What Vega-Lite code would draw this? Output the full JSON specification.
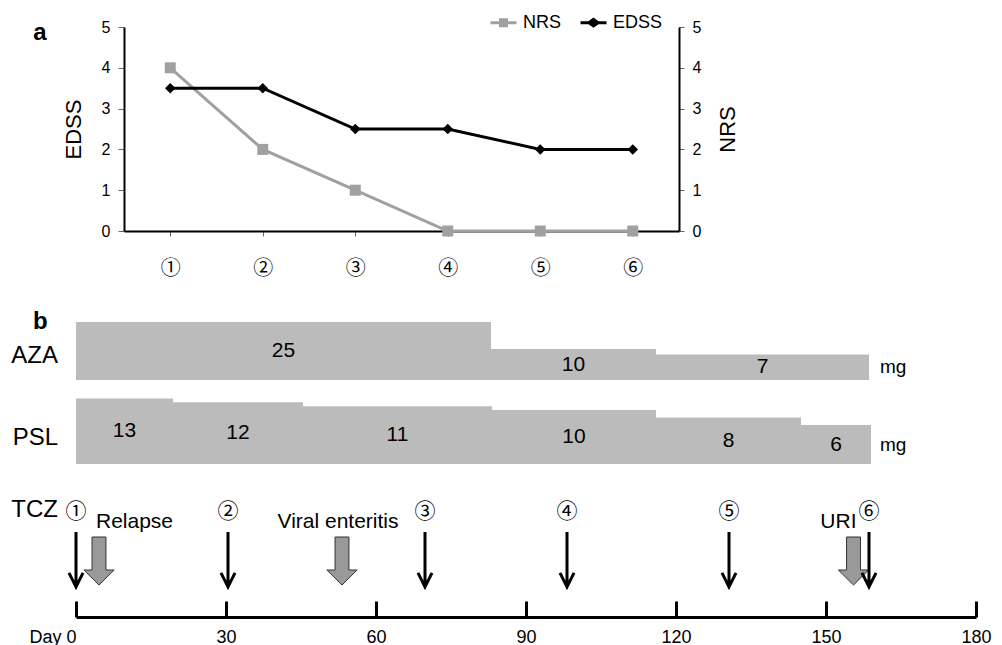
{
  "$schema": "https://vega.github.io/schema/vega-lite/v6.json",
  "padding": {"left": 11, "top": 8, "right": 10, "bottom": 0},
  "background": "white",
  "config": {
    "view": {"stroke": null},
    "font": "Liberation Sans",
    "axis": {"grid": false, "labelColor": "#000", "titleColor": "#000", "titleFontWeight": "normal", "domainColor": "#000", "labelFont": "Liberation Sans", "titleFont": "Liberation Sans"},
    "legend": {"labelFont": "Liberation Sans", "labelColor": "#000"},
    "text": {"font": "Liberation Sans", "color": "#000"}
  },
  "bounds": "flush",
  "spacing": 0,
  "resolve": {"scale": {"x": "independent", "y": "independent", "color": "independent"}, "axis": {"x": "independent", "y": "independent"}},
  "datasets": {
    "scores": [
      {"visit": "①", "measure": "NRS", "value": 4},
      {"visit": "②", "measure": "NRS", "value": 2},
      {"visit": "③", "measure": "NRS", "value": 1},
      {"visit": "④", "measure": "NRS", "value": 0},
      {"visit": "⑤", "measure": "NRS", "value": 0},
      {"visit": "⑥", "measure": "NRS", "value": 0},
      {"visit": "①", "measure": "EDSS", "value": 3.5},
      {"visit": "②", "measure": "EDSS", "value": 3.5},
      {"visit": "③", "measure": "EDSS", "value": 2.5},
      {"visit": "④", "measure": "EDSS", "value": 2.5},
      {"visit": "⑤", "measure": "EDSS", "value": 2},
      {"visit": "⑥", "measure": "EDSS", "value": 2}
    ],
    "aza": [
      {"dose": 25, "start": 0, "end": 83},
      {"dose": 10, "start": 83, "end": 116},
      {"dose": 7, "start": 116, "end": 158.6}
    ],
    "psl": [
      {"dose": 13, "start": 0, "end": 19.4},
      {"dose": 12, "start": 19.4, "end": 45.4},
      {"dose": 11, "start": 45.4, "end": 83.2},
      {"dose": 10, "start": 83.2, "end": 116},
      {"dose": 8, "start": 116, "end": 145},
      {"dose": 6, "start": 145, "end": 159}
    ],
    "tcz": [
      {"label": "①", "day": 0},
      {"label": "②", "day": 30.4},
      {"label": "③", "day": 69.8},
      {"label": "④", "day": 98.2},
      {"label": "⑤", "day": 130.6},
      {"label": "⑥", "day": 158.6}
    ],
    "events": [
      {"event": "Relapse", "day": 4.6},
      {"event": "Viral enteritis", "day": 53.2},
      {"event": "URI", "day": 155.5}
    ]
  },
  "vconcat": [
    {
      "width": 603,
      "height": 204,
      "layer": [
        {
          "data": {"name": "scores"},
          "encoding": {
            "x": {
              "field": "visit", "type": "ordinal", "sort": ["①", "②", "③", "④", "⑤", "⑥"],
              "scale": {"type": "point", "range": [48, 603], "padding": 0.5},
              "axis": {"title": null, "domainWidth": 2, "tickSize": 5, "tickColor": "#666", "labelFontSize": 20, "labelPadding": 22, "labelAngle": 0, "labelFont": "Noto Sans CJK JP"}
            },
            "color": {
              "field": "measure", "type": "nominal",
              "scale": {"domain": ["NRS", "EDSS"], "range": ["#a0a0a0", "#000000"]},
              "legend": {
                "title": null, "orient": "none", "legendX": 413, "legendY": -19, "direction": "horizontal",
                "padding": 0, "symbolSize": 676, "symbolStrokeWidth": 3, "labelFontSize": 18, "labelOffset": 5, "columnPadding": 12,
                "encode": {
                  "symbols": {
                    "update": {
                      "shape": {"signal": "datum.value === 'NRS' ? 'M-1,0H1M-0.23,-0.23H0.23V0.23H-0.23Z' : 'M-1,0H1M0,-0.25L0.35,0L0,0.25L-0.35,0Z'"},
                      "fill": {"signal": "datum.value === 'NRS' ? '#a0a0a0' : '#000000'"},
                      "stroke": {"signal": "datum.value === 'NRS' ? '#a0a0a0' : '#000000'"},
                      "strokeWidth": {"value": 3},
                      "opacity": {"value": 1}
                    }
                  }
                }
              }
            }
          },
          "layer": [
            {
              "transform": [{"filter": "datum.measure === 'NRS'"}],
              "encoding": {
                "y": {
                  "field": "value", "type": "quantitative", "scale": {"domain": [0, 5], "nice": false},
                  "axis": {"orient": "right", "title": "NRS", "titleAngle": 270, "titleBaseline": "top", "titleFontSize": 22, "titlePadding": 17, "values": [0, 1, 2, 3, 4, 5], "domainWidth": 2, "tickSize": 5, "tickColor": "#666", "labelFontSize": 16, "labelPadding": 8}
                }
              },
              "layer": [
                {"mark": {"type": "line", "strokeWidth": 3}},
                {"mark": {"type": "point", "shape": "square", "filled": true, "size": 121, "opacity": 1}}
              ]
            },
            {
              "transform": [{"filter": "datum.measure === 'EDSS'"}],
              "encoding": {
                "y": {
                  "field": "value", "type": "quantitative", "scale": {"domain": [0, 5], "nice": false},
                  "axis": {"orient": "left", "offset": -48, "title": "EDSS", "titleFontSize": 22, "titlePadding": 16, "values": [0, 1, 2, 3, 4, 5], "domainWidth": 2, "tickSize": 6, "tickColor": "#666", "labelFontSize": 16, "labelPadding": 8}
                }
              },
              "layer": [
                {"mark": {"type": "line", "strokeWidth": 3}},
                {"mark": {"type": "point", "shape": "diamond", "filled": true, "size": 110, "opacity": 1}}
              ]
            }
          ],
          "resolve": {"scale": {"y": "independent"}}
        },
        {
          "data": {"values": [{}]},
          "mark": {"type": "text", "text": "a", "fontSize": 24, "fontWeight": "bold", "align": "left", "baseline": "alphabetic"},
          "encoding": {
            "x": {"datum": -0.48, "type": "quantitative", "scale": {"domain": [0.5, 6.5], "range": [48, 603], "nice": false, "zero": false}, "axis": null},
            "y": {"datum": 4.68, "type": "quantitative", "scale": {"domain": [0, 5], "nice": false}, "axis": null}
          }
        }
      ],
      "resolve": {"scale": {"x": "independent", "y": "independent"}}
    },
    {
      "width": 900,
      "height": 149,
      "layer": [
        {
          "encoding": {
            "y": {"type": "quantitative", "scale": {"domain": [-7.2, 75.6], "zero": false, "nice": false}, "axis": null}
          },
          "layer": [
            {
              "data": {"name": "aza"},
              "mark": {"type": "bar", "color": "#bbbbbb"},
              "encoding": {
                "x": {"field": "start", "type": "quantitative", "scale": {"domain": [0, 180], "nice": false}, "axis": null},
                "x2": {"field": "end"},
                "y": {"field": "dose", "type": "quantitative"},
                "y2": {"datum": -7.2}
              }
            },
            {
              "data": {"values": [{}]},
              "mark": {"type": "text", "text": "b", "fontSize": 24, "fontWeight": "bold", "align": "left", "baseline": "middle"},
              "encoding": {"x": {"datum": -8.6, "type": "quantitative"}, "y": {"datum": 25, "type": "quantitative"}}
            }
          ]
        },
        {
          "encoding": {
            "y": {"type": "quantitative", "scale": {"domain": [-7.2, 75.6], "range": [149, 74.5], "zero": false, "nice": false}, "axis": null}
          },
          "layer": [
            {
              "data": {"name": "aza"},
              "transform": [
                {"fold": ["start", "end"], "as": ["edge", "day"]},
                {"aggregate": [{"op": "mean", "field": "day", "as": "mid"}], "groupby": ["dose"]}
              ],
              "mark": {"type": "text", "fontSize": 21, "baseline": "middle"},
              "encoding": {
                "x": {"field": "mid", "type": "quantitative"},
                "y": {"field": "dose", "type": "quantitative"},
                "text": {"field": "dose"}
              }
            },
            {
              "data": {"values": [{}]},
              "mark": {"type": "text", "text": "mg", "fontSize": 19, "align": "left", "baseline": "middle"},
              "encoding": {"x": {"datum": 160.8, "type": "quantitative"}, "y": {"datum": 7, "type": "quantitative"}}
            },
            {
              "data": {"values": [{}]},
              "mark": {"type": "text", "text": "AZA", "fontSize": 24, "align": "right", "baseline": "middle"},
              "encoding": {"x": {"datum": -3.6, "type": "quantitative"}, "y": {"datum": 19.5, "type": "quantitative"}}
            }
          ]
        }
      ],
      "resolve": {"scale": {"y": "independent"}}
    },
    {
      "width": 900,
      "height": 84,
      "layer": [
        {
          "data": {"name": "psl"},
          "mark": {"type": "bar", "color": "#bbbbbb"},
          "encoding": {
            "x": {"field": "start", "type": "quantitative", "scale": {"domain": [0, 180], "nice": false}, "axis": null},
            "x2": {"field": "end"},
            "y": {"field": "dose", "type": "quantitative", "scale": {"domain": [-4.27, 17.9], "zero": false, "nice": false}, "axis": null},
            "y2": {"datum": -4.27}
          }
        },
        {
          "encoding": {
            "y": {"type": "quantitative", "scale": {"domain": [-4.27, 17.9], "range": [84, 42], "zero": false, "nice": false}, "axis": null}
          },
          "layer": [
            {
              "data": {"name": "psl"},
              "transform": [
                {"fold": ["start", "end"], "as": ["edge", "day"]},
                {"aggregate": [{"op": "mean", "field": "day", "as": "mid"}], "groupby": ["dose"]}
              ],
              "mark": {"type": "text", "fontSize": 21, "baseline": "middle"},
              "encoding": {
                "x": {"field": "mid", "type": "quantitative"},
                "y": {"field": "dose", "type": "quantitative"},
                "text": {"field": "dose"}
              }
            },
            {
              "data": {"values": [{}]},
              "mark": {"type": "text", "text": "mg", "fontSize": 19, "align": "left", "baseline": "middle"},
              "encoding": {"x": {"datum": 160.8, "type": "quantitative"}, "y": {"datum": 6, "type": "quantitative"}}
            },
            {
              "data": {"values": [{}]},
              "mark": {"type": "text", "text": "PSL", "fontSize": 24, "align": "right", "baseline": "middle"},
              "encoding": {"x": {"datum": -3.6, "type": "quantitative"}, "y": {"datum": 9.45, "type": "quantitative"}}
            }
          ]
        }
      ],
      "resolve": {"scale": {"y": "independent"}}
    },
    {
      "width": 900,
      "height": 153,
      "encoding": {
        "x": {
          "type": "quantitative", "scale": {"domain": [0, 180], "nice": false},
          "axis": {
            "title": null, "values": [0, 30, 60, 90, 120, 150, 180],
            "labelExpr": "datum.value === 0 ? 'Day 0' : datum.label",
            "labelAlign": {"condition": {"test": "datum.value === 0", "value": "right"}, "value": "center"},
            "labelFlush": false, "labelOverlap": false, "labelBound": false,
            "domainWidth": 3, "domainColor": "#000", "tickWidth": 3, "tickColor": "#000", "tickSize": -16,
            "labelFontSize": 18, "labelPadding": 27
          }
        },
        "y": {"type": "quantitative", "scale": {"domain": [0, 100], "nice": false, "zero": false}, "axis": null}
      },
      "layer": [
        {
          "data": {"name": "events"},
          "mark": {"type": "point", "shape": "M-0.29,-1L0.29,-1L0.29,0.375L0.63,0.375L0,1L-0.63,0.375L-0.29,0.375Z", "size": 2304, "filled": true, "fill": "#999999", "stroke": "#333333", "strokeWidth": 1, "opacity": 1},
          "encoding": {"x": {"field": "day", "type": "quantitative"}, "y": {"datum": 36.6, "type": "quantitative"}}
        },
        {
          "data": {"name": "tcz"},
          "mark": {"type": "point", "shape": "M0,-1L0,0.95M-0.255,0.49L0,1L0.255,0.49", "size": 3025, "filled": false, "stroke": "#000000", "strokeWidth": 3, "strokeJoin": "miter", "opacity": 1},
          "encoding": {"x": {"field": "day", "type": "quantitative"}, "y": {"datum": 37.6, "type": "quantitative"}}
        },
        {
          "data": {"name": "tcz"},
          "mark": {"type": "text", "fontSize": 21, "baseline": "middle", "font": "Noto Sans CJK JP"},
          "encoding": {"x": {"field": "day", "type": "quantitative"}, "y": {"datum": 68.6, "type": "quantitative"}, "text": {"field": "label"}}
        },
        {
          "data": {"name": "events"},
          "transform": [{"filter": "datum.event === 'Relapse'"}],
          "mark": {"type": "text", "fontSize": 21, "baseline": "middle", "align": "left", "dx": -3},
          "encoding": {"x": {"field": "day", "type": "quantitative"}, "y": {"datum": 62, "type": "quantitative"}, "text": {"field": "event"}}
        },
        {
          "data": {"name": "events"},
          "transform": [{"filter": "datum.event === 'Viral enteritis'"}],
          "mark": {"type": "text", "fontSize": 21, "baseline": "middle", "align": "center", "dx": -4},
          "encoding": {"x": {"field": "day", "type": "quantitative"}, "y": {"datum": 62, "type": "quantitative"}, "text": {"field": "event"}}
        },
        {
          "data": {"name": "events"},
          "transform": [{"filter": "datum.event === 'URI'"}],
          "mark": {"type": "text", "fontSize": 21, "baseline": "middle", "align": "right", "dx": 3},
          "encoding": {"x": {"field": "day", "type": "quantitative"}, "y": {"datum": 62, "type": "quantitative"}, "text": {"field": "event"}}
        },
        {
          "data": {"values": [{}]},
          "mark": {"type": "text", "text": "TCZ", "fontSize": 24, "align": "right", "baseline": "middle"},
          "encoding": {"x": {"datum": -3.6, "type": "quantitative"}, "y": {"datum": 70, "type": "quantitative"}}
        }
      ]
    }
  ]
}
